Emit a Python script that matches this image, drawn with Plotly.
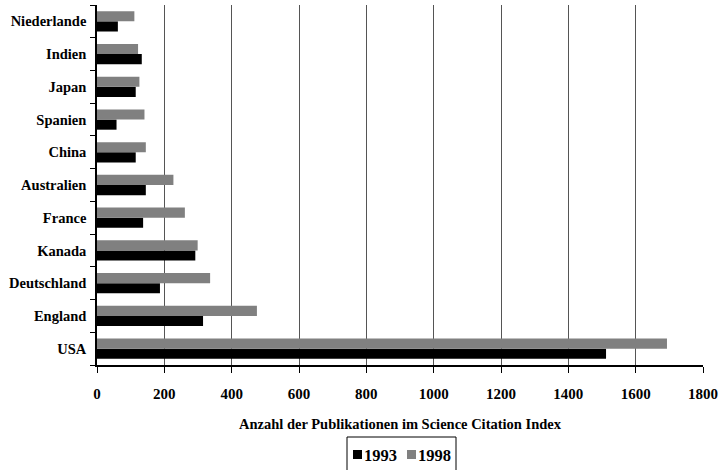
import plotly.graph_objects as go

# Countries listed bottom to top
countries = ["USA", "England", "Deutschland", "Kanada", "France", "Australien",
             "China", "Spanien", "Japan", "Indien", "Niederlande"]
pubs_1993 = [1512, 315, 187, 292, 137, 145, 115, 58, 115, 133, 62]
pubs_1998 = [1693, 475, 336, 299, 261, 227, 145, 141, 126, 122, 111]
x_ticks = [0, 200, 400, 600, 800, 1000, 1200, 1400, 1600, 1800]
series_names = ["1993", "1998"]
series_colors = ["#000000", "#808080"]

font_family = "Liberation Serif"
W, H = 722, 470
M_L, M_R, M_T, M_B = 97, 19, 5, 105
plot_w = W - M_L - M_R
plot_h = H - M_T - M_B


def px_x(p):
    """Convert a pixel column to paper x."""
    return (p - M_L) / plot_w


def px_y(p):
    """Convert a pixel row to paper y."""
    return (H - M_B - p) / plot_h


fig = go.Figure()
for name, vals, col in zip(series_names, [pubs_1993, pubs_1998], series_colors):
    fig.add_trace(go.Bar(
        y=countries, x=vals, name=name, orientation="h",
        marker=dict(color=col, line=dict(width=0)),
        showlegend=False,
    ))

fig.update_layout(
    width=W, height=H,
    margin=dict(l=M_L, r=M_R, t=M_T, b=M_B),
    paper_bgcolor="white", plot_bgcolor="white",
    barmode="group", bargap=0.38, bargroupgap=0.0,
    font=dict(family=font_family, size=14, color="#000000"),
)

fig.update_xaxes(
    range=[0, 1800], tickvals=x_ticks, ticktext=[f"<b>{v}</b>" for v in x_ticks],
    showgrid=True, gridcolor="#555555", gridwidth=1,
    showline=True, linecolor="#000000", linewidth=1.5,
    ticks="outside", ticklen=6, tickcolor="#000000",
    ticklabelstandoff=8,
    tickfont=dict(family=font_family, size=15, color="#000000"),
    zeroline=False,
    title=dict(text="<b>Anzahl der Publikationen im Science Citation Index</b>",
               font=dict(family=font_family, size=14.5, color="#000000"),
               standoff=18),
)
fig.update_yaxes(
    tickvals=countries, ticktext=[f"<b>{c}</b>" for c in countries],
    showgrid=False, showline=True, linecolor="#000000", linewidth=1.5,
    ticks="outside", ticklen=5, tickcolor="#000000", tickson="boundaries",
    ticklabelstandoff=6,
    tickfont=dict(family=font_family, size=14.5, color="#000000"),
)

# Legend box below the axis title, running off the bottom edge
fig.add_shape(type="rect", xref="paper", yref="paper",
              x0=px_x(347), x1=px_x(456), y0=px_y(474), y1=px_y(437),
              line=dict(color="#000000", width=1), fillcolor="white")
legend_x = [353, 407]
for name, col, lx in zip(series_names, series_colors, legend_x):
    fig.add_shape(type="rect", xref="paper", yref="paper",
                  x0=px_x(lx), x1=px_x(lx + 9), y0=px_y(459), y1=px_y(450),
                  line=dict(width=0), fillcolor=col)
    fig.add_annotation(xref="paper", yref="paper", x=px_x(lx + 9), y=px_y(455),
                       xanchor="left", yanchor="middle", showarrow=False,
                       text=f"<b>{name}</b>",
                       font=dict(family=font_family, size=16.5, color="#000000"))

fig.write_html("out.html")
